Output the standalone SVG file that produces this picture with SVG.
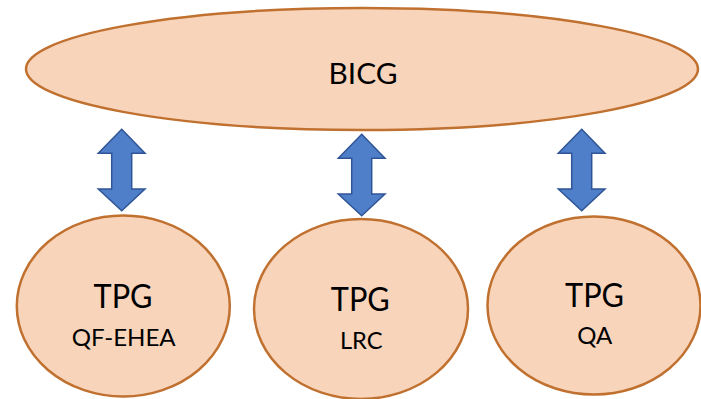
<svg xmlns="http://www.w3.org/2000/svg" width="701" height="399" viewBox="0 0 701 399">
<style>
.node{fill:#F8D4BB;stroke:#C0702F;stroke-width:2.5}
.arrow{fill:#4F7FC8;stroke:#2F5597;stroke-width:1.5;stroke-linejoin:miter}
text{font-family:Lato,"Open Sans","Liberation Sans",sans-serif;fill:#000;text-anchor:middle}
.big{font-size:32.5px}
.small{font-size:23.5px}
.top{font-size:29.5px}
</style>
<rect width="701" height="399" fill="#fff"/>
<g id="connectors">
<polygon class="arrow" points="121.7,129.3 145,153.3 131.7,153.3 131.7,189 145,189 121.7,210.7 98.3,189 111.7,189 111.7,153.3 98.3,153.3"/>
<polygon class="arrow" points="361.7,134.3 385,158.3 371.7,158.3 371.7,194 385,194 361.7,215.7 338.3,194 351.7,194 351.7,158.3 338.3,158.3"/>
<polygon class="arrow" points="581.7,129.3 605,153.3 591.7,153.3 591.7,189 605,189 581.7,210.7 558.3,189 571.7,189 571.7,153.3 558.3,153.3"/>
</g>
<g id="bicg">
<ellipse class="node" cx="362" cy="69" rx="336" ry="61"/>
<text class="top" x="363" y="84" textLength="69" lengthAdjust="spacingAndGlyphs">BICG</text>
</g>
<g id="tpg-qf-ehea">
<ellipse class="node" cx="123.3" cy="306" rx="106.5" ry="90.5"/>
<text class="big" x="123" y="308.3" textLength="59" lengthAdjust="spacingAndGlyphs">TPG</text>
<text class="small" x="123.7" y="345.7" textLength="104" lengthAdjust="spacingAndGlyphs">QF-EHEA</text>
</g>
<g id="tpg-lrc">
<ellipse class="node" cx="361" cy="309" rx="107" ry="90"/>
<text class="big" x="360.3" y="311" textLength="59" lengthAdjust="spacingAndGlyphs">TPG</text>
<text class="small" x="361.3" y="349" textLength="42.7" lengthAdjust="spacingAndGlyphs">LRC</text>
</g>
<g id="tpg-qa">
<ellipse class="node" cx="594" cy="305.5" rx="106.5" ry="89"/>
<text class="big" x="594.5" y="306.7" textLength="59" lengthAdjust="spacingAndGlyphs">TPG</text>
<text class="small" x="594.8" y="344" textLength="35" lengthAdjust="spacingAndGlyphs">QA</text>
</g>
</svg>
